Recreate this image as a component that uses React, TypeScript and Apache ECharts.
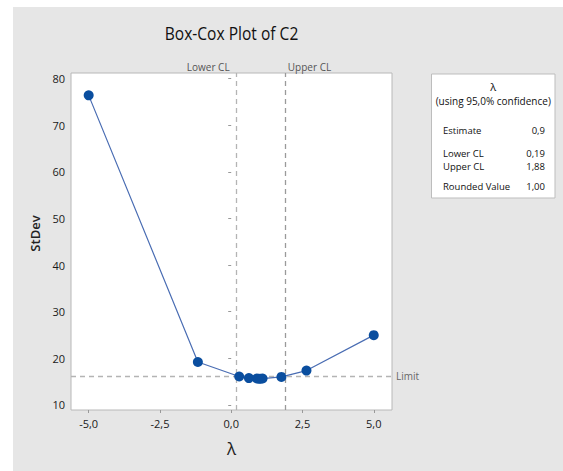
import React, { useEffect, useRef } from "react";
import * as echarts from "echarts";

const lambdas = [-5, -1.17, 0.28, 0.62, 0.9, 0.97, 1.03, 1.1, 1.76, 2.64, 5];
const stdevs = [76.4, 19.2, 16.08, 15.75, 15.65, 15.62, 15.62, 15.65, 16.0, 17.36, 24.96];
const lowerCL = 0.19;
const upperCL = 1.88;
const limit = 16.15;
const xTicks = [-5, -2.5, 0, 2.5, 5];
const yTicks = [10, 20, 30, 40, 50, 60, 70, 80];
const legendRows = [
  ["Estimate", "0,9"],
  ["Lower CL", "0,19"],
  ["Upper CL", "1,88"],
  ["Rounded Value", "1,00"],
];
const legendRowY = [130.5, 153.5, 166, 186];

const FONT = "'Open Sans', 'Noto Sans', sans-serif";

export default function App() {
  const ref = useRef<HTMLDivElement>(null);
  useEffect(() => {
    if (!ref.current) return;
    const chart = echarts.init(ref.current, undefined, { renderer: "svg" });
    const fmt = (v: number) => v.toFixed(1).replace(".", ",");
    const option: any = {
      animation: false,
      backgroundColor: "#ffffff",
      textStyle: { fontFamily: FONT },
      grid: {
        left: 71,
        top: 73,
        right: 171,
        bottom: 61,
        show: true,
        backgroundColor: "#ffffff",
        borderColor: "#b8b8b8",
        borderWidth: 1,
      },
      xAxis: {
        type: "value",
        min: -5.62,
        max: 5.64,
        name: "λ",
        nameLocation: "middle",
        nameGap: 30,
        nameTextStyle: { fontSize: 17, color: "#222", fontFamily: FONT },
        axisLine: { show: false },
        splitLine: { show: false },
        axisTick: {
          show: true,
          length: 3,
          customValues: xTicks,
          lineStyle: { color: "#999" },
        },
        axisLabel: {
          customValues: xTicks,
          formatter: (v: number) => fmt(v),
          fontSize: 11,
          fontWeight: 500,
          color: "#1a1a1a",
          margin: 8,
          fontFamily: FONT,
        },
      },
      yAxis: {
        type: "value",
        min: 8.9,
        max: 81.2,
        name: "StDev",
        nameLocation: "middle",
        nameGap: 30,
        nameTextStyle: {
          fontSize: 13,
          fontWeight: 600,
          color: "#222",
          fontFamily: FONT,
          padding: [0, 0, 0, 16],
        },
        axisLine: { show: false },
        splitLine: { show: false },
        axisTick: {
          show: true,
          length: 3,
          customValues: yTicks,
          lineStyle: { color: "#999" },
        },
        axisLabel: {
          customValues: yTicks,
          fontSize: 11,
          fontWeight: 500,
          color: "#1a1a1a",
          margin: 6,
          fontFamily: FONT,
        },
      },
      series: [
        {
          type: "line",
          data: lambdas.map((l, i) => [l, stdevs[i]]),
          symbol: "circle",
          symbolSize: 10,
          lineStyle: { color: "#4a6db3", width: 1.2 },
          itemStyle: { color: "#0a4e9f" },
          z: 5,
          markLine: {
            silent: true,
            symbol: "none",
            lineStyle: { type: [5, 4], color: "#b4b4b4", width: 1.3 },
            data: [
              { xAxis: lowerCL, label: { show: false } },
              {
                xAxis: upperCL,
                label: { show: false },
                lineStyle: { type: [5, 4], color: "#9a9a9a", width: 1.3 },
              },
              {
                yAxis: limit,
                label: {
                  show: true,
                  position: "end",
                  formatter: "Limit",
                  color: "#666",
                  fontSize: 10,
                  distance: 4,
                  fontFamily: FONT,
                },
              },
            ],
          },
        },
      ],
    };
    chart.setOption(option);

    const lx = chart.convertToPixel({ gridIndex: 0 }, [lowerCL, limit]) as number[];
    const ux = chart.convertToPixel({ gridIndex: 0 }, [upperCL, limit]) as number[];

    const boxX = 431.5;
    const boxW = 123.5;
    const boxCx = boxX + boxW / 2;
    const legendText = (text: string, x: number, y: number, align: string, size = 9.5) => ({
      type: "text",
      x,
      y,
      style: {
        text,
        fontSize: size,
        lineHeight: 10,
        fontFamily: FONT,
        fill: "#111",
        align,
        verticalAlign: "middle",
      },
    });
    const graphic: any[] = [
      {
        type: "rect",
        z: -10,
        silent: true,
        shape: { x: 13, y: 7, width: 563 - 13, height: 471 - 7 },
        style: { fill: "#e6e6e6" },
      },
      {
        type: "text",
        x: 231.5,
        y: 32,
        scaleX: 0.82,
        style: {
          text: "Box-Cox Plot of C2",
          fontSize: 19,
          fontWeight: 500,
          fontFamily: FONT,
          fill: "#111",
          align: "center",
          verticalAlign: "middle",
        },
      },
      {
        type: "text",
        x: lx[0] - 7,
        y: 67,
        style: {
          text: "Lower CL",
          fontSize: 10,
          fontFamily: FONT,
          fill: "#555",
          align: "right",
          verticalAlign: "middle",
        },
      },
      {
        type: "text",
        x: ux[0] + 3,
        y: 67,
        style: {
          text: "Upper CL",
          fontSize: 10,
          fontFamily: FONT,
          fill: "#555",
          align: "left",
          verticalAlign: "middle",
        },
      },
      {
        type: "rect",
        shape: { x: boxX, y: 74, width: boxW, height: 124 },
        style: { fill: "#ffffff", stroke: "#bdbdbd", lineWidth: 1 },
      },
      legendText("λ", boxCx, 86, "center", 11),
      legendText("(using 95,0% confidence)", boxCx, 101, "center", 10),
    ];
    legendRows.forEach((r, i) => {
      graphic.push(legendText(r[0], 443, legendRowY[i], "left"));
      graphic.push(legendText(r[1], 545, legendRowY[i], "right"));
    });
    chart.setOption({ graphic });

    return () => chart.dispose();
  }, []);
  return (
    <div
      ref={ref}
      style={{ position: "fixed", left: 0, top: 0, width: 563, height: 471 }}
    />
  );
}
